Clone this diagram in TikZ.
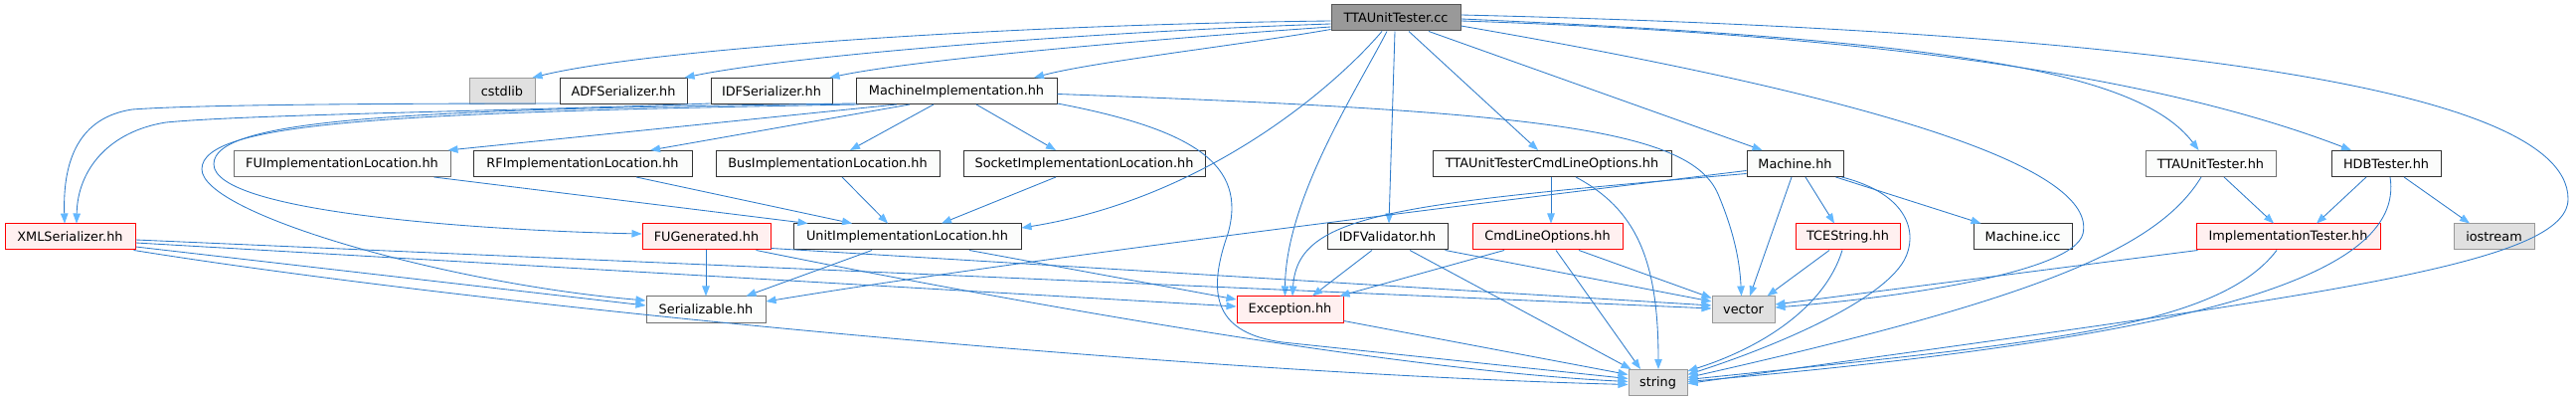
\documentclass[tikz,border=0pt]{standalone}
\usepackage{fontspec}
\setmainfont{DejaVu Sans}
\usetikzlibrary{arrows.meta,calc}
\definecolor{edgec}{HTML}{2F7CCB}
\definecolor{headc}{HTML}{63B8FF}
\definecolor{normb}{HTML}{333333}
\definecolor{normg}{HTML}{707070}
\definecolor{normf}{HTML}{FBFCFB}
\definecolor{rootb}{HTML}{555555}
\definecolor{rootf}{HTML}{999999}
\definecolor{truncb}{HTML}{FF0000}
\definecolor{truncf}{HTML}{FFF0F0}
\definecolor{sysb}{HTML}{999999}
\definecolor{sysf}{HTML}{E0E0E0}
\begin{document}
\begin{tikzpicture}[x=1pt,y=-1pt,
  box/.style={draw, line width=1pt, minimum height=26pt, inner sep=0pt, text=black,
              font=\fontsize{12.85}{15}\selectfont},
  norm/.style={box, draw=normb, fill=normf},
  normgr/.style={box, draw=normg, fill=normf},
  rootn/.style={box, draw=rootb, fill=rootf},
  trunc/.style={box, draw=truncb, fill=truncf},
  sysn/.style={box, draw=sysb, fill=sysf},
  dep/.style={draw=edgec, line width=0.85pt, -{Triangle[length=10pt,width=7.5pt,color=headc]}}
]
\fill[white] (0,0) rectangle (2591,403);
\useasboundingbox (0,0) rectangle (2591,403);

\node[rootn, minimum width=130pt] (root) at (1404,18) {TTAUnitTester.cc};
\node[sysn, minimum width=66pt] (cstdlib) at (505,91.5) {cstdlib};
\node[norm, minimum width=128pt] (adf) at (627,91.5) {ADFSerializer.hh};
\node[norm, minimum width=122pt] (idf) at (776,91.5) {IDFSerializer.hh};
\node[norm, minimum width=202pt] (mimpl) at (962,91.5) {MachineImplementation.hh};
\node[normgr, minimum width=218pt] (fuil) at (344,164.5) {FUImplementationLocation.hh};
\node[norm, minimum width=220pt] (rfil) at (586,164.5) {RFImplementationLocation.hh};
\node[norm, minimum width=225pt] (busil) at (832.5,164.5) {BusImplementationLocation.hh};
\node[norm, minimum width=243pt] (sockil) at (1090.5,164.5) {SocketImplementationLocation.hh};
\node[norm, minimum width=240pt] (cmdopt) at (1561,164.5) {TTAUnitTesterCmdLineOptions.hh};
\node[norm, minimum width=97pt] (mach) at (1805.5,164.5) {Machine.hh};
\node[normgr, minimum width=131pt] (tuth) at (2223.5,164.5) {TTAUnitTester.hh};
\node[norm, minimum width=110pt] (hdb) at (2400,164.5) {HDBTester.hh};
\node[trunc, minimum width=131pt] (xml) at (70.5,238) {XMLSerializer.hh};
\node[trunc, minimum width=129pt] (fugen) at (710.5,238) {FUGenerated.hh};
\node[norm, minimum width=229pt] (unitil) at (912.5,238) {UnitImplementationLocation.hh};
\node[norm, minimum width=121pt] (idfv) at (1395.5,238) {IDFValidator.hh};
\node[trunc, minimum width=151pt] (clo) at (1556.5,238) {CmdLineOptions.hh};
\node[trunc, minimum width=105pt] (tces) at (1858.5,238) {TCEString.hh};
\node[norm, minimum width=99pt] (micc) at (2034.5,238) {Machine.icc};
\node[trunc, minimum width=185pt] (impt) at (2301.5,238) {ImplementationTester.hh};
\node[sysn, minimum width=81pt] (iostr) at (2508.5,238) {iostream};
\node[normgr, minimum width=120pt] (ser) at (710,311) {Serializable.hh};
\node[trunc, minimum width=107pt] (exc) at (1297.5,311) {Exception.hh};
\node[sysn, minimum width=63pt] (vec) at (1753.5,311) {vector};
\node[sysn, minimum width=59pt] (str) at (1667.5,384.5) {string};

% ---------------- root edges ----------------
\draw[dep] ($(root.west)+(0,3)$) .. controls (1000,25) and (650,50) .. ($(cstdlib.north east)+(-3,0)$);
\draw[dep] ($(root.west)+(0,6)$) .. controls (1100,32) and (800,55) .. ($(adf.north east)+(-3,0)$);
\draw[dep] ($(root.west)+(0,9)$) .. controls (1150,40) and (920,60) .. ($(idf.north east)+(-3,0)$);
\draw[dep] ($(root.south west)+(0,-2)$) .. controls (1250,45) and (1100,62) .. ($(mimpl.north)+(78,0)$);
\draw[dep] ($(root.south)+(-14,0)$) .. controls (1340,90) and (1210,200) .. ($(unitil.east)+(0,-9)$);
\draw[dep] ($(root.south)+(-9,0)$) .. controls (1365,90) and (1293,200) .. ($(exc.north)+(-5,0)$);
\draw[dep] ($(root.south)+(-1,0)$) -- ($(idfv.north)+(1.5,0)$);
\draw[dep] ($(root.south)+(13,0)$) -- ($(cmdopt.north)+(-14,0)$);
\draw[dep] ($(root.south)+(33,0)$) -- ($(mach.north)+(-33,0)$);
\draw[dep] ($(root.east)+(0,1)$) .. controls (1950,40) and (2150,70) .. ($(tuth.north)+(-12,0)$);
\draw[dep] ($(root.east)+(0,3)$) .. controls (1900,35) and (2180,80) .. ($(hdb.north)+(-35,0)$);
\draw[dep] ($(root.east)+(0,-3)$) .. controls (2100,30) and (2583,80) .. (2583,200)
   .. controls (2583,270) and (2300,300) .. ($(str.east)+(0,1)$);
\draw[dep] ($(root.east)+(0,8)$) .. controls (1900,100) and (2110,170) .. (2095,235)
   .. controls (2085,275) and (1900,300) .. ($(vec.east)+(0,-2)$);

% ---------------- MachineImplementation ----------------
\draw[dep] ($(mimpl.south)+(-60,0)$) -- ($(fuil.north east)+(-3,0)$);
\draw[dep] ($(mimpl.south)+(-47,0)$) -- ($(rfil.north)+(68,0)$);
\draw[dep] ($(mimpl.south)+(-23,0)$) -- ($(busil.north)+(22.5,0)$);
\draw[dep] ($(mimpl.south)+(20,0)$) -- ($(sockil.north)+(-28.5,0)$);
\draw[dep] ($(mimpl.south west)+(0,-1)$) .. controls (400,110) and (215,120) .. (215,165)
   .. controls (215,215) and (500,232) .. ($(fugen.west)+(0,-3)$);
\draw[dep] ($(mimpl.south west)+(3,0)$) .. controls (400,113) and (203,122) .. (203,170)
   .. controls (203,215) and (450,285) .. ($(ser.west)+(0,-9)$);
\draw[dep] ($(mimpl.east)+(0,3)$) .. controls (1550,112) and (1700,130) .. (1728,195)
   .. controls (1745,235) and (1750,265) .. ($(vec.north)+(-2,0)$);
\draw[dep] ($(mimpl.south east)+(0,-1)$) .. controls (1200,130) and (1255,165) .. (1235,235)
   .. controls (1212,300) and (1225,335) .. (1290,344) -- ($(str.west)+(0,-4)$);

% ---------------- serializers ----------------
\draw[dep] ($(adf.south west)+(0,-1)$) .. controls (400,104) and (200,105) .. (133,110)
   .. controls (80,118) and (63,160) .. ($(xml.north)+(-5.5,0)$);
\draw[dep] ($(idf.south west)+(0,-1)$) .. controls (500,112) and (250,115) .. (167,123)
   .. controls (110,132) and (78,170) .. ($(xml.north)+(6.5,0)$);

% ---------------- implementation locations ----------------
\draw[dep] ($(fuil.south east)+(-17,0)$) -- ($(unitil.north west)+(15,0)$);
\draw[dep] ($(rfil.south)+(54,0)$) -- ($(unitil.north)+(-55.5,0)$);
\draw[dep] ($(busil.south)+(14.5,0)$) -- ($(unitil.north)+(-19.5,0)$);
\draw[dep] ($(sockil.south)+(-28.5,0)$) -- ($(unitil.north)+(34.5,0)$);
\draw[dep] ($(unitil.south)+(-35.5,0)$) -- ($(ser.north east)+(-20,0)$);
\draw[dep] ($(unitil.south)+(62.5,0)$) -- ($(exc.west)+(0,-10)$);

% ---------------- FUGenerated ----------------
\draw[dep] ($(fugen.south)+(-0.5,0)$) -- (ser.north);
\draw[dep] ($(fugen.south east)+(0,-2)$) -- ($(vec.west)+(0,-4)$);
\draw[dep] ($(fugen.south east)+(-15,0)$) .. controls (1000,300) and (1400,372) .. ($(str.west)+(0,-1)$);

% ---------------- XMLSerializer ----------------
\draw[dep] ($(xml.east)+(0,10)$) -- ($(ser.west)+(0,-4)$);
\draw[dep] ($(xml.east)+(0,6)$) -- ($(exc.west)+(0,-3)$);
\draw[dep] ($(xml.east)+(0,3)$) -- ($(vec.west)+(0,-1)$);
\draw[dep] ($(xml.south east)+(-2,0)$) .. controls (500,310) and (1200,375) .. ($(str.west)+(0,2)$);

% ---------------- IDFValidator ----------------
\draw[dep] ($(idfv.south)+(-15.5,0)$) -- ($(exc.north)+(22.5,0)$);
\draw[dep] ($(idfv.south east)+(-3,0)$) -- ($(vec.west)+(0,-8)$);
\draw[dep] ($(idfv.south)+(22.5,0)$) -- ($(str.north west)+(3,0)$);

% ---------------- command line options ----------------
\draw[dep] ($(cmdopt.south)+(-1,0)$) -- ($(clo.north)+(3.5,0)$);
\draw[dep] ($(cmdopt.south)+(24,0)$) .. controls (1645,210) and (1668,260) .. ($(str.north)+(0.5,0)$);
\draw[dep] ($(clo.south)+(-43.5,0)$) -- ($(exc.north east)+(-4,0)$);
\draw[dep] ($(clo.south)+(31.5,0)$) -- ($(vec.north west)+(0,2)$);
\draw[dep] ($(clo.south)+(8.5,0)$) -- ($(str.north)+(-17.5,0)$);

% ---------------- Machine.hh ----------------
\draw[dep] ($(mach.west)+(0,7)$) .. controls (1400,215) and (1000,265) .. ($(ser.east)+(0,-8)$);
\draw[dep] ($(mach.west)+(0,10)$) .. controls (1400,205) and (1305,215) .. ($(exc.north)+(2.5,0)$);
\draw[dep] ($(mach.south)+(-3.5,0)$) -- ($(vec.north)+(6.5,0)$);
\draw[dep] ($(mach.south)+(10.5,0)$) -- ($(tces.north)+(-13.5,0)$);
\draw[dep] ($(mach.south east)+(-8,0)$) -- ($(micc.north west)+(8,0)$);
\draw[dep] ($(mach.south east)+(-2,0)$) .. controls (1920,195) and (1930,235) .. (1915,262)
   .. controls (1890,305) and (1780,350) .. ($(str.east)+(0,-8)$);

% ---------------- TCEString ----------------
\draw[dep] ($(tces.south)+(-18.5,0)$) -- ($(vec.north east)+(-8,0)$);
\draw[dep] ($(tces.south)+(-5.5,0)$) .. controls (1835,310) and (1770,350) .. ($(str.north east)+(0,2)$);

% ---------------- testers ----------------
\draw[dep] ($(tuth.south)+(13.5,0)$) -- ($(impt.north)+(-14.5,0)$);
\draw[dep] ($(tuth.south)+(-9.5,0)$) .. controls (2170,250) and (2050,300) .. ($(str.east)+(0,-5)$);
\draw[dep] ($(hdb.south)+(-20,0)$) -- ($(impt.north)+(28.5,0)$);
\draw[dep] ($(hdb.south)+(18,0)$) -- ($(iostr.north)+(-24.5,0)$);
\draw[dep] ($(hdb.south)+(4,0)$) .. controls (2420,280) and (2200,340) .. ($(str.east)+(0,-1)$);
\draw[dep] ($(impt.south west)+(2,0)$) -- ($(vec.east)+(0,-5)$);
\draw[dep] ($(impt.south)+(-11.5,0)$) .. controls (2230,330) and (2050,345) .. ($(str.east)+(0,-3)$);

% ---------------- Exception ----------------
\draw[dep] ($(exc.south east)+(0,-2)$) -- ($(str.west)+(0,-8)$);

\end{tikzpicture}
\end{document}
